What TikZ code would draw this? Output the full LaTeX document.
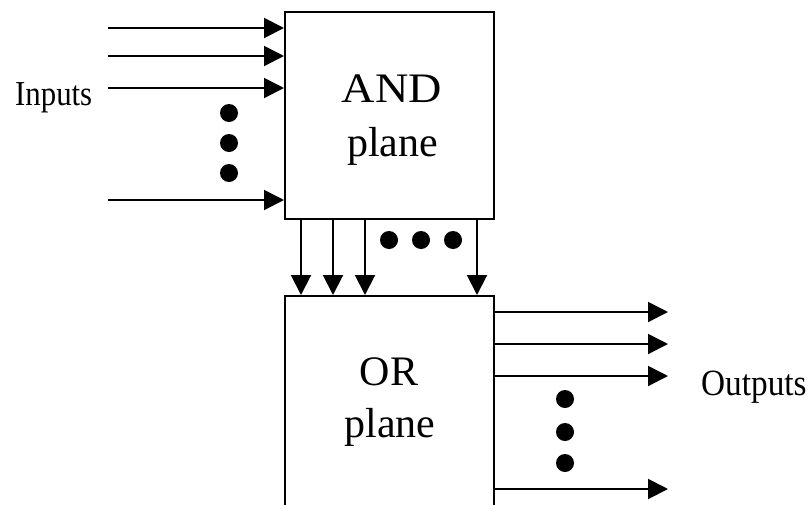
\documentclass[tikz,border=0pt]{standalone}
\usepackage{fontspec}
\setmainfont{Liberation Serif}
\usetikzlibrary{arrows.meta}
\begin{document}
\begin{tikzpicture}[x=1pt,y=-1pt,
  plbox/.style={draw, line width=2pt, minimum width=209pt, inner sep=0pt},
  arr/.style={line width=2pt, -{Triangle[length=20pt,width=20pt]}},
  dotm/.style={fill=black, circle, minimum size=18pt, inner sep=0pt},
  bigtxt/.style={font=\fontsize{42}{50}\selectfont, inner sep=0pt, anchor=base},
  smtxt/.style={inner sep=0pt, anchor=base west}]
\clip (0,0) rectangle (809,504);
\useasboundingbox (0,0) rectangle (809,504);
\node[plbox, minimum height=207pt] (and) at (389.5,115.5) {};
\node[plbox, minimum height=230pt] (or) at (389.5,411) {};
\node[bigtxt] (andt) at (392,102) {\scalebox{1.1}[1]{AND}};
\node[bigtxt] (andp) at (392.5,156) {plane};
\node[bigtxt] (ort) at (389,385) {OR};
\node[bigtxt] (orp) at (390,437) {plane};
% inputs
\node[smtxt] (inl) at (15,105) {\scalebox{0.88}[1]{\fontsize{35}{40}\selectfont Inputs}};
\foreach \n/\y in {1/28,2/56,3/88,4/200}{
  \coordinate (i\n) at (108,\y);
  \draw[arr] (i\n) -- (i\n -| and.west);
}
\foreach \n/\y in {1/113,2/143,3/173}{\node[dotm] (vi\n) at (229,\y) {};}
% and -> or
\foreach \n/\x in {1/301,2/333,3/365,4/477}{
  \coordinate (d\n) at (\x,0);
  \draw[arr] (d\n |- and.south) -- (d\n |- or.north);
}
\foreach \n/\x in {1/389,2/421,3/453}{\node[dotm] (hd\n) at (\x,240) {};}
% outputs
\foreach \n/\y in {1/312,2/344,3/376,4/489}{
  \coordinate (o\n) at (668,\y);
  \draw[arr] (o\n -| or.east) -- (o\n);
}
\foreach \n/\y in {1/399,2/432,3/463}{\node[dotm] (vo\n) at (565,\y) {};}
\node[smtxt] (outl) at (701,395) {\scalebox{0.9}[1]{\fontsize{37}{40}\selectfont Outputs}};
\end{tikzpicture}
\end{document}
